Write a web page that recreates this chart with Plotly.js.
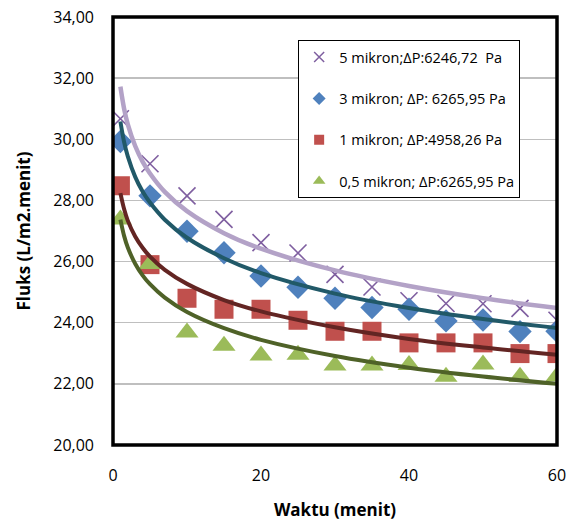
<!DOCTYPE html>
<html>
<head>
<meta charset="utf-8">
<script src="https://cdn.plot.ly/plotly-3.0.1.min.js"></script>
<style>html,body{margin:0;padding:0;background:#fff;}#chart{width:578px;height:521px;}</style>
</head>
<body>
<div id="chart"></div>
<script>
// Measured data (time in minutes, flux in L/m2.menit)
const waktu = [1, 5, 10, 15, 20, 25, 30, 35, 40, 45, 50, 55, 60];
const fluks5 = [30.67, 29.20, 28.15, 27.38, 26.62, 26.28, 25.58, 25.17, 24.72, 24.63, 24.62, 24.47, 24.08];
const fluks3 = [29.93, 28.15, 26.99, 26.29, 25.53, 25.16, 24.80, 24.50, 24.44, 24.06, 24.09, 23.71, 23.72];
const fluks1 = [28.48, 25.90, 24.80, 24.44, 24.44, 24.08, 23.72, 23.72, 23.34, 23.34, 23.34, 22.99, 22.99];
const fluks05 = [27.38, 25.92, 23.68, 23.25, 22.93, 22.95, 22.60, 22.60, 22.62, 22.23, 22.63, 22.23, 22.25];

// Trend line values
const trendX = [1, 1.5, 2, 3, 4, 5, 7, 10, 15, 20, 30, 40, 50, 60];
const trend5 = [31.72, 31.00, 30.49, 29.78, 29.27, 28.88, 28.28, 27.65, 26.93, 26.42, 25.71, 25.20, 24.80, 24.48];
const trend3 = [30.58, 29.91, 29.44, 28.77, 28.29, 27.93, 27.37, 26.78, 26.11, 25.62, 24.95, 24.48, 24.12, 23.83];
const trend1 = [28.24, 27.72, 27.34, 26.82, 26.45, 26.16, 25.73, 25.27, 24.74, 24.37, 23.85, 23.47, 23.19, 22.95];
const trend05 = [27.37, 26.84, 26.46, 25.93, 25.55, 25.26, 24.82, 24.35, 23.82, 23.44, 22.91, 22.53, 22.24, 22.00];

const seriesNames = [
  "5 mikron;\u0394P:6246,72\u00a0 Pa",
  "3 mikron; \u0394P: 6265,95 Pa",
  "1 mikron; \u0394P:4958,26 Pa",
  "0,5 mikron; \u0394P:6265,95 Pa"
];
const yTicks = [20, 22, 24, 26, 28, 30, 32, 34];
const xTicks = [0, 20, 40, 60];

const fontFam = "'Open Sans', 'Noto Sans', sans-serif";

const mk5 = {symbol: 'x-thin', size: 17, line: {width: 1.6, color: '#7F5FA0'}, color: '#7F5FA0'};
const mk3 = {symbol: 'diamond', size: 18, color: '#4F81BD'};
const mk1 = {symbol: 'square', size: 19, color: '#C0504D'};
const mk05 = {symbol: 'triangle-up', size: 20, color: '#9BBB59'};

const traces = [
  {x: waktu, y: fluks5, mode: 'markers', type: 'scatter', showlegend: false, marker: mk5},
  {x: waktu, y: fluks3, mode: 'markers', type: 'scatter', showlegend: false, marker: mk3},
  {x: waktu, y: fluks1, mode: 'markers', type: 'scatter', showlegend: false, marker: mk1},
  {x: waktu, y: fluks05, mode: 'markers', type: 'scatter', showlegend: false, marker: mk05},
  {x: trendX, y: trend5, mode: 'lines', type: 'scatter', showlegend: false,
   line: {color: '#B3A2C7', width: 4.5, shape: 'spline'}},
  {x: trendX, y: trend3, mode: 'lines', type: 'scatter', showlegend: false,
   line: {color: '#215968', width: 4, shape: 'spline'}},
  {x: trendX, y: trend1, mode: 'lines', type: 'scatter', showlegend: false,
   line: {color: '#632523', width: 4, shape: 'spline'}},
  {x: trendX, y: trend05, mode: 'lines', type: 'scatter', showlegend: false,
   line: {color: '#4F6228', width: 4, shape: 'spline'}},
  // legend entries (smaller symbols as in the reference legend)
  {x: [null], y: [null], name: seriesNames[0], legendgroup: 'a', mode: 'markers', type: 'scatter',
   marker: {symbol: 'x-thin', size: 10, line: {width: 1.5, color: '#7F5FA0'}}},
  {x: [null], y: [null], name: seriesNames[1], legendgroup: 'b', mode: 'markers', type: 'scatter',
   marker: {symbol: 'diamond', size: 10, color: '#4F81BD'}},
  {x: [null], y: [null], name: seriesNames[2], legendgroup: 'c', mode: 'markers', type: 'scatter',
   marker: {symbol: 'square', size: 10, color: '#C0504D'}},
  {x: [null], y: [null], name: seriesNames[3], legendgroup: 'd', mode: 'markers', type: 'scatter',
   marker: {symbol: 'triangle-up', size: 11, color: '#9BBB59'}}
];

const layout = {
  width: 578, height: 521,
  margin: {l: 113, r: 21, t: 17, b: 76},
  paper_bgcolor: '#fff', plot_bgcolor: '#fff',
  separators: ',.',
  hovermode: false,
  font: {family: fontFam, color: '#000', size: 15},
  showlegend: true,
  xaxis: {
    range: [0, 60], tickvals: xTicks, showgrid: false, zeroline: false,
    showline: false, ticks: '', ticklabelstandoff: 19,
    tickfont: {size: 16, family: fontFam},
    title: {text: '<b>Waktu (menit)</b>', font: {size: 17, family: fontFam}, standoff: 20}
  },
  yaxis: {
    range: [20, 34], tickvals: yTicks, tickformat: '.2f',
    showgrid: true, gridcolor: '#BFBFBF', gridwidth: 1.5, zeroline: false,
    showline: false, ticks: '', ticklabelstandoff: 18,
    tickfont: {size: 16, family: fontFam},
    title: {text: '<b>Fluks (L/m2.menit)</b>', font: {size: 17, family: fontFam}, standoff: 18}
  },
  legend: {
    x: 0.417, y: 0.946, xanchor: 'left', yanchor: 'top',
    bgcolor: '#fff', bordercolor: '#000', borderwidth: 1,
    font: {size: 14.5, family: fontFam}, tracegroupgap: 19.5, itemwidth: 30
  },
  shapes: [{type: 'rect', xref: 'paper', yref: 'paper', x0: 0, x1: 1, y0: 0, y1: 1,
            line: {color: '#000', width: 3.5}, layer: 'above'}]
};

Plotly.newPlot('chart', traces, layout, {displayModeBar: false, staticPlot: true});
</script>
</body>
</html>
